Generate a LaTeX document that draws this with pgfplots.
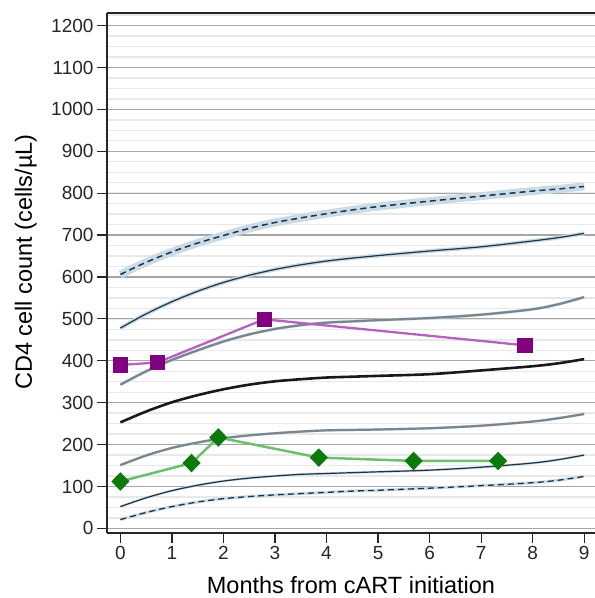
\documentclass[border=0pt]{standalone}
\usepackage{fontspec}
\setmainfont{Liberation Sans}
\usepackage{pgfplots}
\usepackage{pgfplotstable}
\pgfplotsset{compat=1.18}

\definecolor{band}{HTML}{C9DBE6}
\definecolor{navy}{HTML}{1F3344}
\definecolor{slate}{HTML}{7A8590}
\definecolor{plum}{HTML}{800080}
\definecolor{plumline}{HTML}{B562BC}
\definecolor{leaf}{HTML}{0B7A0B}
\definecolor{leafline}{HTML}{6CBF6C}

% fitted percentile curves
\pgfplotstableread{
x    c1   c2   c3   c4   c5   c6   c7
0    606  478  343  253  151  52   21
0.5  635  512  375  279  174  73   38
1    660  541  402  301  192  90   52
1.5  681  566  425  318  205  103  63
2    699  587  446  332  215  113  71
2.5  716  604  463  343  222  120  76
3    730  618  476  351  227  125  80
3.5  741  629  485  356  231  129  83
4    751  638  491  360  234  131  86
4.5  760  645  494  362  235  133  89
5    768  651  497  364  236  135  91
6    781  662  502  368  239  139  96
7    793  672  510  377  245  146  102
8    805  686  523  387  255  156  109
8.5  810  694  535  394  263  164  115
9    816  704  552  404  273  175  124
}\curves

\begin{document}
\begin{tikzpicture}
\begin{axis}[
  scale only axis, width=488pt, height=520pt,
  xmin=-0.26, xmax=9.21, ymin=-11, ymax=1230,
  axis x line=box, axis y line*=left,
  axis line style={-, line width=1.3pt, black!85},
  xtick={0,...,9}, ytick={0,100,...,1200},
  minor ytick={25,50,...,1225},
  xtick pos=bottom, ytick pos=left,
  tick align=outside, major tick length=10pt, minor tick length=0pt,
  major tick style={line width=1.2pt, black!85},
  ymajorgrids, yminorgrids,
  major grid style={line width=1.2pt, black!35},
  minor grid style={line width=1.4pt, black!9},
  tick label style={font=\fontsize{19}{19}\selectfont, black!85},
  /pgf/number format/assume math mode=true,
  /pgf/number format/set thousands separator={},
  label style={font=\fontsize{23.5}{24}\selectfont},
  xlabel={Months from cART initiation},
  ylabel={CD4 cell count (cells/µL)},
  xlabel style={at={(axis description cs:0.5,-0.1173)}, anchor=base},
  ylabel style={at={(axis description cs:-0.1537,0.521)}, anchor=base},
]
  % confidence bands
  \addplot[band, line width=8pt, smooth] table[x=x,y=c1]{\curves};
  \addplot[band, line width=4pt, smooth] table[x=x,y=c2]{\curves};
  \addplot[band, line width=3pt, smooth] table[x=x,y=c3]{\curves};
  \addplot[band, line width=2.5pt, smooth] table[x=x,y=c5]{\curves};
  \addplot[band, line width=2.5pt, smooth] table[x=x,y=c6]{\curves};
  \addplot[band, line width=3pt, smooth] table[x=x,y=c7]{\curves};

  % percentile curves
  \addplot[navy, line width=1.5pt, smooth, dash pattern=on 6pt off 4pt] table[x=x,y=c1]{\curves};
  \addplot[navy, line width=1.2pt, smooth] table[x=x,y=c2]{\curves};
  \addplot[slate, line width=2.2pt, smooth] table[x=x,y=c3]{\curves};
  \addplot[black!90, line width=2.6pt, smooth] table[x=x,y=c4]{\curves};
  \addplot[slate, line width=2.2pt, smooth] table[x=x,y=c5]{\curves};
  \addplot[navy, line width=1.2pt, smooth] table[x=x,y=c6]{\curves};
  \addplot[navy, line width=1.3pt, smooth, dash pattern=on 6pt off 4pt] table[x=x,y=c7]{\curves};

  % patient measurements
  \addplot[plumline, line width=2.3pt, mark=square*, mark size=6.5pt,
    mark options={plum, fill=plum, solid}]
    coordinates {(0,390) (0.72,396) (2.79,499) (7.85,437)};
  \addplot[leafline, line width=2.5pt, mark=diamond*, mark size=7.5pt,
    mark options={leaf, fill=leaf, solid, xscale=1.3}]
    coordinates {(0,112) (1.38,156) (1.9,217) (3.85,169) (5.69,161) (7.33,161)};
\end{axis}
\pgfresetboundingbox
\useasboundingbox ([xshift=-107pt,yshift=-65pt]current axis.south west)
  rectangle ([yshift=13pt]current axis.north east);
\end{tikzpicture}
\end{document}
